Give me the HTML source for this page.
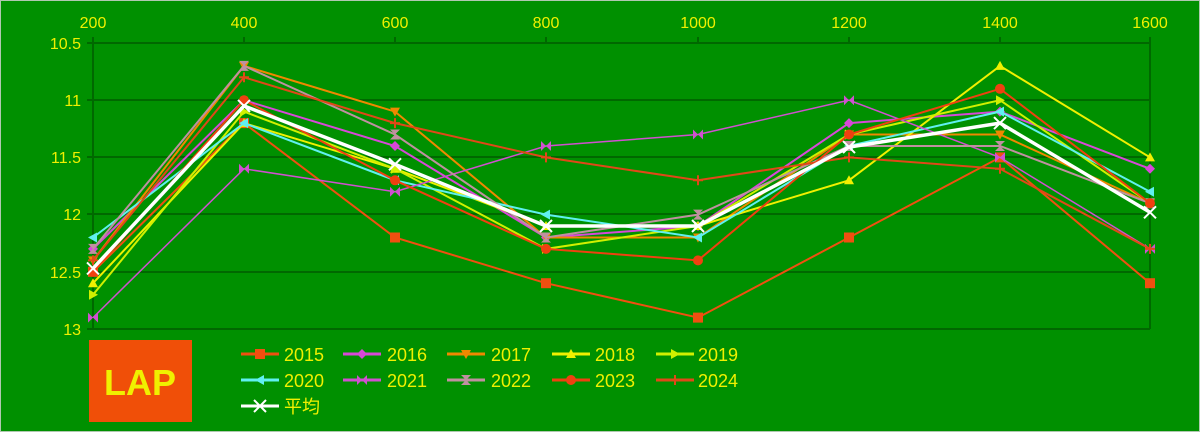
<!DOCTYPE html>
<html><head><meta charset="utf-8"><style>
html,body{margin:0;padding:0;background:#009000;}
svg{display:block}
text{font-family:"Liberation Sans","Noto Sans CJK JP",sans-serif;fill:#f0f000;font-size:16px}
</style></head><body>
<svg width="1200" height="432" viewBox="0 0 1200 432" xmlns="http://www.w3.org/2000/svg">
<defs>
<marker id="sq" viewBox="-6 -6 12 12" markerWidth="12" markerHeight="12" markerUnits="userSpaceOnUse"><rect x="-5" y="-5" width="10" height="10" fill="#f04f10"/></marker>
<marker id="di" viewBox="-6 -6 12 12" markerWidth="12" markerHeight="12" markerUnits="userSpaceOnUse"><path d="M0-5L5 0 0 5-5 0Z" fill="#d848d8"/></marker>
<marker id="dn" viewBox="-6 -6 12 12" markerWidth="12" markerHeight="12" markerUnits="userSpaceOnUse"><path d="M-5-4H5L0 5Z" fill="#f08800"/></marker>
<marker id="up" viewBox="-6 -6 12 12" markerWidth="12" markerHeight="12" markerUnits="userSpaceOnUse"><path d="M-5 4H5L0-5Z" fill="#f0f000"/></marker>
<marker id="rt" viewBox="-6 -6 12 12" markerWidth="12" markerHeight="12" markerUnits="userSpaceOnUse"><path d="M-4-5V5L5 0Z" fill="#d0f000"/></marker>
<marker id="lt" viewBox="-6 -6 12 12" markerWidth="12" markerHeight="12" markerUnits="userSpaceOnUse"><path d="M4-5V5L-5 0Z" fill="#60f0f0"/></marker>
<marker id="bt" viewBox="-6 -6 12 12" markerWidth="12" markerHeight="12" markerUnits="userSpaceOnUse"><path d="M-5-5V5L5-5V5Z" fill="#d050d0"/></marker>
<marker id="hg" viewBox="-6 -6 12 12" markerWidth="12" markerHeight="12" markerUnits="userSpaceOnUse"><path d="M-5-5H5L-5 5H5Z" fill="#c090a0"/></marker>
<marker id="ci" viewBox="-6 -6 12 12" markerWidth="12" markerHeight="12" markerUnits="userSpaceOnUse"><circle r="5" fill="#f04010"/></marker>
<marker id="st" viewBox="-6 -6 12 12" markerWidth="12" markerHeight="12" markerUnits="userSpaceOnUse"><path d="M0-5V5M-5 0H5" stroke="#e04818" stroke-width="2"/></marker>
<marker id="xx" viewBox="-7 -7 14 14" markerWidth="14" markerHeight="14" markerUnits="userSpaceOnUse"><path d="M-6-6L6 6M6-6L-6 6" stroke="#fff" stroke-width="2"/></marker>
</defs>
<rect x="0.5" y="0.5" width="1199" height="431" fill="#009000" stroke="#b0c8b0"/>
<g stroke="#006800" stroke-width="2">
<line x1="87" y1="43" x2="1150" y2="43"/><line x1="87" y1="100" x2="1150" y2="100"/><line x1="87" y1="157" x2="1150" y2="157"/><line x1="87" y1="214" x2="1150" y2="214"/><line x1="87" y1="272" x2="1150" y2="272"/><line x1="87" y1="329" x2="1150" y2="329"/>
<line x1="93" y1="37" x2="93" y2="329"/><line x1="1150" y1="37" x2="1150" y2="329"/>
<line x1="244" y1="37" x2="244" y2="43"/><line x1="395" y1="37" x2="395" y2="43"/><line x1="546" y1="37" x2="546" y2="43"/><line x1="698" y1="37" x2="698" y2="43"/><line x1="849" y1="37" x2="849" y2="43"/><line x1="1000" y1="37" x2="1000" y2="43"/>
</g>
<g text-anchor="middle">
<text x="93" y="28">200</text><text x="244" y="28">400</text><text x="395" y="28">600</text><text x="546" y="28">800</text><text x="698" y="28">1000</text><text x="849" y="28">1200</text><text x="1000" y="28">1400</text><text x="1150" y="28">1600</text>
</g>
<g text-anchor="end">
<text x="81" y="49">10.5</text><text x="81" y="106">11</text><text x="81" y="163">11.5</text><text x="81" y="220">12</text><text x="81" y="278">12.5</text><text x="81" y="335">13</text>
</g>
<g fill="none" stroke-width="2">
<polyline stroke="#f04f10" marker-start="url(#sq)" marker-mid="url(#sq)" marker-end="url(#sq)" points="93,271.8 244,123.1 395,237.5 546,283.2 698,317.6 849,237.5 1000,157.4 1150,283.2"/>
<polyline stroke="#d848d8" marker-start="url(#di)" marker-mid="url(#di)" marker-end="url(#di)" points="93,248.9 244,100.2 395,146 546,237.5 698,226 849,123.1 1000,111.6 1150,168.8"/>
<polyline stroke="#f08800" marker-start="url(#dn)" marker-mid="url(#dn)" marker-end="url(#dn)" points="93,260.4 244,65.9 395,111.6 546,237.5 698,237.5 849,134.5 1000,134.5 1150,203.2"/>
<polyline stroke="#f0f000" marker-start="url(#up)" marker-mid="url(#up)" marker-end="url(#up)" points="93,283.2 244,123.1 395,168.8 546,226 698,226 849,180.3 1000,65.9 1150,157.4"/>
<polyline stroke="#d0f000" marker-start="url(#rt)" marker-mid="url(#rt)" marker-end="url(#rt)" points="93,294.7 244,111.6 395,168.8 546,248.9 698,226 849,134.5 1000,100.2 1150,203.2"/>
<polyline stroke="#60f0f0" marker-start="url(#lt)" marker-mid="url(#lt)" marker-end="url(#lt)" points="93,237.5 244,123.1 395,180.3 546,214.6 698,237.5 849,146 1000,111.6 1150,191.7"/>
<polyline stroke="#d050d0" stroke-width="1.5" marker-start="url(#bt)" marker-mid="url(#bt)" marker-end="url(#bt)" points="93,317.6 244,168.8 395,191.7 546,146 698,134.5 849,100.2 1000,157.4 1150,248.9"/>
<polyline stroke="#c090a0" marker-start="url(#hg)" marker-mid="url(#hg)" marker-end="url(#hg)" points="93,248.9 244,65.9 395,134.5 546,237.5 698,214.6 849,146 1000,146 1150,203.2"/>
<polyline stroke="#f04010" marker-start="url(#ci)" marker-mid="url(#ci)" marker-end="url(#ci)" points="93,271.8 244,100.2 395,180.3 546,248.9 698,260.4 849,134.5 1000,88.8 1150,203.2"/>
<polyline stroke="#e04818" marker-start="url(#st)" marker-mid="url(#st)" marker-end="url(#st)" points="93,260.4 244,77.3 395,123.1 546,157.4 698,180.3 849,157.4 1000,168.8 1150,248.9"/>
<polyline stroke="#ffffff" stroke-width="3.5" marker-start="url(#xx)" marker-mid="url(#xx)" marker-end="url(#xx)" points="93,268.4 244,105.9 395,164.3 546,226 698,226 849,147.1 1000,123.1 1150,212.3"/>
</g>
<rect x="89" y="340" width="103" height="82" fill="#f04f08"/>
<text x="140" y="395" text-anchor="middle" style="font-size:36px;font-weight:bold">LAP</text>
<g stroke-width="3">
<line x1="241" y1="354" x2="279" y2="354" stroke="#f04f10" marker-mid="url(#sq)"/>
<polyline points="241,354 260,354 279,354" stroke="#f04f10" marker-mid="url(#sq)"/>
<polyline points="343,354 362,354 381,354" stroke="#d848d8" marker-mid="url(#di)"/>
<polyline points="447,354 466,354 485,354" stroke="#f08800" marker-mid="url(#dn)"/>
<polyline points="552,354 571,354 590,354" stroke="#f0f000" marker-mid="url(#up)"/>
<polyline points="656,354 675,354 694,354" stroke="#d0f000" marker-mid="url(#rt)"/>
<polyline points="241,380 260,380 279,380" stroke="#60f0f0" marker-mid="url(#lt)"/>
<polyline points="343,380 362,380 381,380" stroke="#d050d0" marker-mid="url(#bt)"/>
<polyline points="447,380 466,380 485,380" stroke="#c090a0" marker-mid="url(#hg)"/>
<polyline points="552,380 571,380 590,380" stroke="#f04010" marker-mid="url(#ci)"/>
<polyline points="656,380 675,380 694,380" stroke="#e04818" marker-mid="url(#st)"/>
<polyline points="241,406 260,406 279,406" stroke="#ffffff" marker-mid="url(#xx)"/>
</g>
<g style="font-size:18px">
<text x="284" y="361" style="font-size:18px">2015</text><text x="387" y="361" style="font-size:18px">2016</text><text x="491" y="361" style="font-size:18px">2017</text><text x="595" y="361" style="font-size:18px">2018</text><text x="698" y="361" style="font-size:18px">2019</text>
<text x="284" y="387" style="font-size:18px">2020</text><text x="387" y="387" style="font-size:18px">2021</text><text x="491" y="387" style="font-size:18px">2022</text><text x="595" y="387" style="font-size:18px">2023</text><text x="698" y="387" style="font-size:18px">2024</text>
<text x="284" y="413" style="font-size:18px">平均</text>
</g>
</svg>
</body></html>
